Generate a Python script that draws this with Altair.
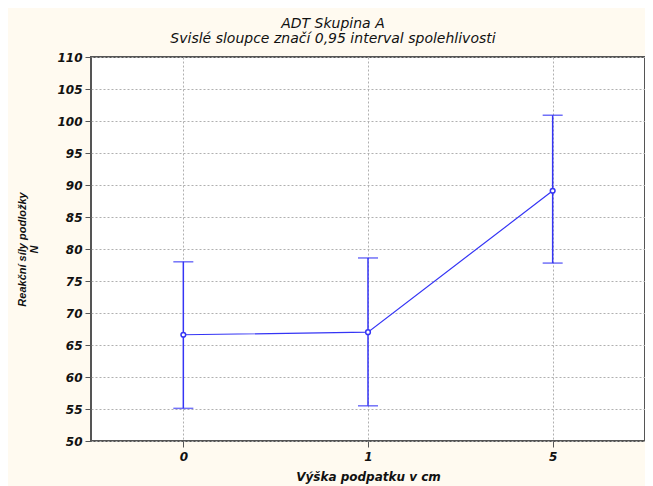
import altair as alt
import pandas as pd

categories = ["0", "1", "5"]
means = [66.6, 67.0, 89.1]
lower = [55.1, 55.5, 77.8]
upper = [78.0, 78.6, 100.9]
y_ticks = [50, 55, 60, 65, 70, 75, 80, 85, 90, 95, 100, 105, 110]

df = pd.DataFrame({"h": categories, "m": means, "lo": lower, "hi": upper})

blue = "#3535f5"
FONT = "DejaVu Sans"

x = alt.X("h:N", sort=categories, scale=alt.Scale(type="point", padding=0.5),
          axis=alt.Axis(title="Výška podpatku v cm", labelAngle=0))
y_scale = alt.Scale(domain=[50, 110], nice=False, zero=False)
y_axis = alt.Axis(title=["Reakční síly podložky", "N"], values=y_ticks, labelOverlap=False)


def Y(field):
    return alt.Y(field, scale=y_scale, axis=y_axis)


base = alt.Chart(df)

rules = base.mark_rule(color=blue, strokeWidth=1.5).encode(x=x, y=Y("lo:Q"), y2="hi:Q")
cap_lo = base.mark_tick(color=blue, size=20, thickness=1.5, orient="horizontal").encode(
    x=x, y=Y("lo:Q"))
cap_hi = base.mark_tick(color=blue, size=20, thickness=1.5, orient="horizontal").encode(
    x=x, y=Y("hi:Q"))
line = base.mark_line(color=blue, strokeWidth=1.2).encode(x=x, y=Y("m:Q"))
pts = base.mark_point(shape="circle", filled=True, fill="white", stroke=blue,
                      strokeWidth=1.5, size=22, opacity=1).encode(x=x, y=Y("m:Q"))

chart = alt.layer(rules, line, cap_lo, cap_hi, pts).properties(
    width=554, height=384,
    title=alt.TitleParams(
        text="ADT Skupina A",
        subtitle="Svislé sloupce značí 0,95 interval spolehlivosti",
        anchor="middle", frame="bounds",
        font=FONT, fontSize=14, fontStyle="italic", fontWeight="normal", color="#111",
        subtitleFont=FONT, subtitleFontSize=14, subtitleFontStyle="italic",
        subtitleColor="#111", subtitlePadding=1, offset=5, dx=2,
    ),
    background="#fffaf0",
    padding={"left": 83, "top": 49, "right": 0, "bottom": 45},
    autosize=alt.AutoSizeParams(type="none"),
).configure_view(
    fill="white", stroke="#555555", strokeWidth=2,
).configure_axis(
    grid=True, gridColor="#b0b0b0", gridDash=[2, 2], gridWidth=1,
    domain=False,
    tickColor="#555555", tickSize=6,
    labelFont=FONT, labelFontSize=12, labelFontStyle="italic", labelFontWeight="bold",
    labelColor="#111", labelPadding=3,
    titleFont=FONT, titleFontSize=12, titleFontStyle="italic", titleFontWeight="bold",
    titleColor="#111",
).configure_axisY(
    titlePadding=17, titleLineHeight=12, titleFont="Liberation Sans", titleFontSize=11,
).configure_axisX(
    labelPadding=4, titlePadding=9,
)

chart.save("out.html", embed_options={"renderer": "svg", "actions": False})
